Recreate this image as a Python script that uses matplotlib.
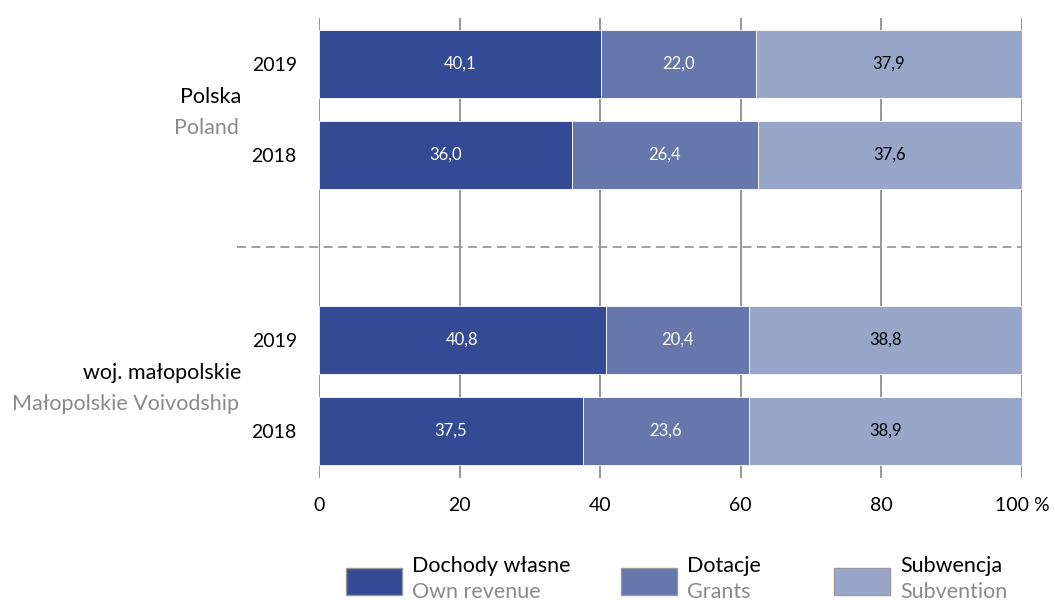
import matplotlib.pyplot as plt
from matplotlib.patches import Rectangle
import numpy as np

plt.rcParams['font.family'] = ['Lato', 'DejaVu Sans']

# data
years = ['2019', '2018', '2019', '2018']
groups_pl = ['Polska', 'woj. małopolskie']
groups_en = ['Poland', 'Małopolskie Voivodship']
series_pl = ['Dochody własne', 'Dotacje', 'Subwencja']
series_en = ['Own revenue', 'Grants', 'Subvention']
own_revenue = [40.1, 36.0, 40.8, 37.5]
grants = [22.0, 26.4, 20.4, 23.6]
subvention = [37.9, 37.6, 38.8, 38.9]
xticks = [0, 20, 40, 60, 80, 100]
xtick_labels = ['0', '20', '40', '60', '80', '100 %']

colors = ['#344a94', '#6677ac', '#98a6ca']
text_colors = ['white', 'white', 'black']
grey = '#8a8a8a'

fig = plt.figure(figsize=(10.55, 6.0), dpi=100)
ax = fig.add_axes([319 / 1055, 1 - 478 / 600, 703 / 1055, 460 / 600])

ypos = np.array([0, 1, 3.033, 4.033])
h = 0.747

for xv in xticks:
    ax.axvline(xv, color='#7a7a7a', lw=1.1, zorder=0)

left = np.zeros(len(years))
for vals, c, tc in zip([own_revenue, grants, subvention], colors, text_colors):
    vals = np.array(vals)
    ax.barh(ypos, vals, left=left, height=h, color=c, edgecolor='white', linewidth=0.6, zorder=2)
    for y, l, v in zip(ypos, left, vals):
        ax.text(l + v / 2, y, f'{v:.1f}'.replace('.', ','), ha='center', va='center',
                color=tc, fontsize=12, zorder=3)
    left += vals

ax.set_xlim(0, 100)
ax.set_ylim(4.549, -0.505)
for s in ax.spines.values():
    s.set_visible(False)
ax.set_xticks(xticks)
ax.set_xticklabels(xtick_labels, fontsize=14)
ax.set_yticks(ypos)
ax.set_yticklabels(years, fontsize=14)
ax.tick_params(axis='x', length=0, pad=14)
ax.tick_params(axis='y', length=0, pad=16)

# dashed separator
ax.plot([-11.7, 100], [2.01, 2.01], ls=(0, (5, 3)), color='#999999', lw=1.3, clip_on=False, zorder=1)

# group labels
for yc, pl, en in zip([(ypos[0] + ypos[1]) / 2, (ypos[2] + ypos[3]) / 2], groups_pl, groups_en):
    ax.text(-11, yc - 0.135, pl, ha='right', va='center', fontsize=15.5, color='black')
    ax.text(-11.4, yc + 0.2, en, ha='right', va='center', fontsize=15.5, color=grey)

# legend
legend_x = [346, 621, 834]
for lx, c, pl, en in zip(legend_x, colors, series_pl, series_en):
    fig.patches.append(Rectangle((lx / 1055, 1 - 595 / 600), 56 / 1055, 27 / 600,
                                 transform=fig.transFigure, facecolor=c, edgecolor='#999999', lw=1))
    fig.text((lx + 66) / 1055, 1 - 566 / 600, pl, ha='left', va='center', fontsize=15.5)
    fig.text((lx + 66) / 1055, 1 - 592 / 600, en, ha='left', va='center', fontsize=15.5, color=grey)

fig.savefig('out.png', dpi=100)
